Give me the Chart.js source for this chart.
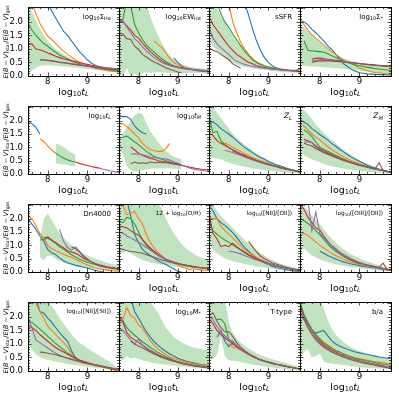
<!DOCTYPE html>
<html>
<head>
<meta charset="utf-8">
<script src="https://cdn.jsdelivr.net/npm/chart.js@4.4.1/dist/chart.umd.min.js"></script>
<style>
  html, body { margin: 0; padding: 0; background: #fff; }
  body { width: 399px; height: 399px; position: relative; overflow: hidden;
         font-family: "DejaVu Sans", sans-serif; color: #000; }
  canvas { position: absolute; }
  .t { position: absolute; white-space: nowrap; line-height: 1; }
  .s { font-size: 70%; position: relative; top: 0.3em; }
</style>
</head>
<body>
<script>
const _ = null;

// x grid (log10 t_L), shared by every panel
const logtL = [7.5,7.6,7.7,7.8,7.9,8.0,8.1,8.2,8.3,8.4,8.5,8.6,8.7,8.8,8.9,9.0,9.1,9.2,9.3,9.4,9.5,9.6,9.7,9.8];
const yTicks = [0, 0.5, 1, 1.5, 2];
const xTicks = [8, 9];

// each panel: [blue, orange, green, red, purple, brown], band: [upper, lower]
const sigHa = [
  [_,_,_,_,_, 2.7,2.4,2.15,1.9,1.65, 1.5,1.3,1.1,0.9,0.75, 0.6,0.48,0.4,0.33,0.29, 0.26,0.23,0.2,0.18],
  [_,2.7,2.3,1.95,1.7, 1.47,1.35,1.2,1.05,0.92, 0.8,0.7,0.6,0.52,0.45, 0.4,0.34,0.3,0.26,0.23, 0.2,0.18,0.16,0.15],
  [1.95,1.7,1.5,1.35,1.2, 1.1,0.98,0.88,0.78,0.7, 0.63,0.56,0.5,0.45,0.4, 0.37,0.34,0.31,0.29,0.26, 0.24,0.22,0.2,0.19],
  [1.2,1.18,1.0,0.97,0.92, 0.85,0.8,0.73,0.68,0.63, 0.6,0.56,0.53,0.5,0.46, 0.43,0.4,0.37,0.35,0.32, 0.3,0.28,0.26,0.25],
  [_,_,_,0.58,0.6, 0.57,0.56,0.54,0.52,0.5, 0.48,0.46,0.44,0.42,0.4, 0.38,0.36,0.34,0.33,0.32, 0.3,0.29,0.28,0.27],
  [_,_,_,0.6,0.59, 0.58,0.56,0.53,0.5,0.48, 0.46,0.44,0.42,0.4,0.38, 0.36,0.34,0.32,0.3,0.28, 0.26,0.25,0.24,0.23]
];
const sigHaBand = [
  [2.8,2.4,2.05,1.75,1.5, 1.3,1.15,1.0,0.9,0.8, 0.72,0.64,0.58,0.52,0.47, 0.43,0.4,0.37,0.34,0.32, 0.3,0.28,0.27,0.26],
  [0.05,0.2,0.3,0.38,0.4, 0.4,0.39,0.38,0.37,0.35, 0.34,0.33,0.31,0.3,0.28, 0.27,0.25,0.23,0.21,0.2, 0.18,0.17,0.15,0.14]
];

const ewHa = [
  [_,_,_,_,_, _,_,_,_,_, _,_,_,_,0.66, 0.5,0.38,0.3,0.26,0.22, 0.2,0.18,0.16,0.15],
  [_,_,_,_,_, _,_,_,_,1.3, 1.15,1.05,0.85,0.65,0.5, 0.42,0.35,0.3,0.27,0.25, 0.23,0.22,0.21,0.2],
  [2.0,2.1,2.8,2.6,1.9, 1.6,1.35,1.15,1.0,0.88, 0.75,0.63,0.53,0.45,0.38, 0.33,0.3,0.27,0.25,0.23, 0.21,0.2,0.19,0.18],
  [2.05,2.0,1.85,1.7,1.5, 1.4,1.22,1.05,0.9,0.78, 0.66,0.55,0.47,0.4,0.36, 0.33,0.3,0.28,0.26,0.24, 0.22,0.21,0.2,0.19],
  [2.1,2.05,1.8,1.6,1.38, 1.25,1.08,0.93,0.8,0.68, 0.58,0.5,0.43,0.38,0.34, 0.31,0.28,0.26,0.24,0.23, 0.22,0.21,0.2,0.19],
  [1.6,1.55,1.38,1.35,1.1, 0.98,0.8,0.7,0.6,0.52, 0.45,0.38,0.3,0.25,0.2, 0.15,0.12,_,_,_, _,_,_,_]
];
const ewHaBand = [
  [2.9,2.9,2.9,2.9,2.9, 2.9,2.9,2.7,2.2,1.8, 1.5,1.2,0.95,0.75,0.6, 0.5,0.42,0.38,0.34,0.32, 0.3,0.28,0.27,0.26],
  [0,0,0.3,0,0.1, 0,0.1,0.15,0.1,0.15, 0.15,0.15,0.12,0.12,0.1, 0.1,0.1,0.1,0.11,0.12, 0.12,0.12,0.12,0.12]
];

const ssfr = [
  [_,_,_,_,_, _,_,_,_,2.7, 2.25,1.75,1.3,0.95,0.68, 0.5,0.38,0.3,0.26,0.23, 0.21,0.2,0.18,0.16],
  [_,_,_,_,_, 2.7,2.0,1.6,1.25,1.0, 0.8,0.65,0.53,0.45,0.38, 0.33,0.3,0.27,0.25,0.23, 0.21,0.2,0.18,0.16],
  [_,_,2.7,2.3,2.0, 1.8,1.55,1.35,1.12,0.92, 0.75,0.6,0.5,0.42,0.37, 0.33,0.29,0.26,0.24,0.22, 0.21,0.2,0.2,0.3],
  [2.2,1.9,1.7,1.5,1.3, 1.1,0.95,0.8,0.7,0.6, 0.5,0.45,0.38,0.34,0.31, 0.28,0.26,0.24,0.23,0.22, 0.21,0.2,0.19,0.18],
  [1.8,1.4,1.2,1.05,0.92, 0.8,0.65,0.55,0.48,0.43, 0.39,0.36,0.33,0.31,0.29, 0.27,0.25,0.24,0.22,0.21, 0.2,0.19,0.18,_],
  [1.05,0.95,0.9,0.8,0.7, 0.6,0.45,0.37,0.3,_, _,_,_,_,_, _,_,_,_,_, _,_,_,_]
];
const ssfrBand = [
  [2.9,2.8,2.5,2.2,2.0, 1.75,1.5,1.3,1.1,0.92, 0.78,0.65,0.55,0.47,0.41, 0.37,0.34,0.31,0.29,0.27, 0.26,0.25,0.25,0.28],
  [1.3,1.1,0.95,0.8,0.68, 0.58,0.5,0.43,0.38,0.34, 0.31,0.28,0.26,0.24,0.22, 0.2,0.18,0.17,0.16,0.15, 0.14,0.13,0.12,0.1]
];

const sigStar = [
  [2.05,2.0,1.9,1.72,1.6, 1.45,1.3,1.12,0.98,0.82, 0.62,0.45,0.35,0.25,0.18, 0.12,0.1,0.08,0.07,0.06, 0.05,0.05,0.04,0.04],
  [2.05,1.9,1.7,1.52,1.4, 1.28,1.15,1.02,0.9,0.8, 0.7,0.6,0.52,0.45,0.38, 0.3,0.25,0.2,0.16,0.13, 0.11,0.09,0.08,0.07],
  [_,1.3,0.95,0.93,0.92, 0.9,0.88,0.82,0.75,0.68, 0.62,0.56,0.5,0.45,0.41, 0.38,0.35,0.32,0.3,0.28, 0.26,0.24,0.22,0.2],
  [_,_,_,0.62,0.66, 0.66,0.64,0.62,0.6,0.58, 0.56,0.54,0.52,0.5,0.48, 0.46,0.44,0.42,0.41,0.39, 0.38,0.36,0.35,0.34],
  [_,_,_,0.55,0.58, 0.6,0.6,0.59,0.58,0.56, 0.55,0.53,0.52,0.5,0.48, 0.46,0.45,0.43,0.42,0.4, 0.39,0.38,0.37,0.36],
  [_,_,_,0.5,0.54, 0.56,0.57,0.56,0.55,0.54, 0.53,0.52,0.5,0.49,0.47, 0.46,0.44,0.43,0.42,0.41, 0.4,0.39,0.38,0.38]
];
const sigStarBand = [
  [1.95,1.8,1.65,1.5,1.38, 1.25,1.12,1.0,0.9,0.8, 0.72,0.65,0.6,0.55,0.52, 0.49,0.46,0.44,0.42,0.4, 0.38,0.36,0.35,0.34],
  [0.4,0.38,0.36,0.35,0.34, 0.33,0.32,0.31,0.3,0.29, 0.28,0.27,0.26,0.24,0.22, 0.2,0.18,0.16,0.14,0.12, 0.1,0.09,0.08,0.07]
];

const tL = [
  [2.02,1.88,1.75,1.5,_, _,_,_,_,_, _,_,_,_,_, _,_,_,_,_, _,_,_,_],
  [_,_,_,1.32,1.22, 1.05,0.9,0.78,_,_, _,_,_,_,_, _,_,_,_,_, _,_,_,_],
  [_,_,_,_,_, _,_,0.78,0.68,0.6, 0.53,0.48,0.45,_,_, _,_,_,_,_, _,_,_,_],
  [_,_,_,_,_, _,_,_,_,_, _,_,0.45,0.4,0.36, 0.32,0.28,0.25,0.22,_, _,_,_,_],
  [_,_,_,_,_, _,_,_,_,_, _,_,_,_,_, _,_,_,0.22,0.18, 0.15,0.11,0.08,0.06],
  [_,_,_,_,_, _,_,_,_,_, _,_,_,_,_, _,_,_,_,_, _,_,_,_]
];
const tLBand = [
  [_,_,_,_,_, _,_,1.15,1.1,1.0, 0.9,0.8,0.72,_,_, _,_,_,_,_, _,_,_,_],
  [_,_,_,_,_, _,_,0.4,0.38,0.36, 0.34,0.3,0.28,_,_, _,_,_,_,_, _,_,_,_]
];

const tM = [
  [2.15,2.15,2.15,2.05,1.8, 1.65,1.55,1.5,_,_, _,_,_,_,_, _,_,_,_,_, _,_,_,_],
  [1.9,1.88,1.78,1.65,1.5, 1.35,1.15,1.0,0.92,0.87, 0.85,0.85,0.95,1.15,_, _,_,_,_,_, _,_,_,_],
  [1.36,1.38,1.42,1.32,1.2, 1.1,0.97,0.85,0.75,0.66, 0.6,0.55,0.5,0.45,0.41, 0.38,0.35,_,_,_, _,_,_,_],
  [_,_,_,1.02,0.9, 0.78,0.7,0.64,0.58,0.55, 0.5,0.47,0.45,0.42,0.38, 0.35,0.32,0.29,0.26,0.23, 0.2,0.18,0.16,0.14],
  [_,_,_,0.75,0.76, 0.74,0.72,0.68,0.64,0.62, 0.6,0.58,0.56,0.52,0.46, 0.4,0.34,0.28,0.23,0.19, 0.16,0.14,0.12,0.11],
  [_,_,_,0.38,0.45, 0.4,0.42,0.4,0.45,0.42, 0.44,0.42,0.43,0.4,0.38, 0.37,_,_,_,_, _,_,_,_]
];
const tMBand = [
  [1.3,1.5,1.75,2.0,2.2, 2.3,2.25,1.9,1.6,1.4, 1.2,1.0,0.85,0.75,0.65, 0.6,0.55,_,_,_, _,_,_,_],
  [0.9,0.75,0.3,0.15,0.08, 0.1,0.15,0.18,0.2,0.22, 0.22,0.22,0.22,0.22,0.2, 0.2,0.18,_,_,_, _,_,_,_]
];

const zL = [
  [1.98,1.95,1.85,1.7,1.6, 1.5,1.38,1.25,1.12,1.0, 0.9,0.8,0.7,0.62,0.55, 0.47,0.4,0.35,0.3,0.25, 0.2,0.16,0.12,0.08],
  [_,_,_,1.2,1.15, 1.1,1.0,0.92,0.84,0.76, 0.69,0.62,0.56,0.5,0.45, 0.4,0.35,0.3,0.26,0.22, 0.18,0.15,0.11,0.08],
  [2.2,1.55,1.6,1.25,1.1, 1.0,0.9,0.82,0.75,0.68, 0.62,0.55,0.5,0.45,0.4, 0.36,0.32,0.28,0.24,0.2, 0.17,0.14,0.1,0.07],
  [1.55,1.45,1.25,1.15,1.08, 0.98,0.9,0.83,0.76,0.7, 0.63,0.57,0.51,0.46,0.41, 0.36,0.32,0.28,0.24,0.2, 0.17,0.14,0.1,0.07],
  [_,_,_,_,0.88, 0.85,0.8,0.75,0.7,0.64, 0.58,0.53,0.48,0.43,0.39, 0.35,0.31,0.27,0.23,0.2, 0.17,0.14,0.11,0.08],
  [_,_,_,_,_, _,0.86,0.8,0.74,0.68, 0.62,0.56,0.5,0.45,0.4, 0.36,0.32,0.28,0.24,0.21, 0.18,0.15,0.12,0.09]
];
const zLBand = [
  [2.6,2.5,2.3,2.1,1.9, 1.7,1.5,1.35,1.22,1.1, 0.98,0.87,0.78,0.68,0.6, 0.52,0.45,0.38,0.32,0.27, 0.22,0.18,0.15,0.12],
  [0.65,0.6,0.58,0.55,0.48, 0.42,0.38,0.34,0.3,0.27, 0.24,0.21,0.19,0.17,0.15, 0.13,0.11,0.09,0.08,0.06, 0.05,0.04,0.03,0.02]
];

const zM = [
  [2.05,1.95,1.85,1.7,1.6, 1.48,1.38,1.28,1.15,1.05, 0.93,0.83,0.73,0.63,0.55, 0.48,0.4,0.33,0.27,0.22, 0.18,0.14,0.1,0.07],
  [1.9,1.8,1.65,1.5,1.38, 1.28,1.15,1.03,0.92,0.82, 0.73,0.65,0.57,0.5,0.44, 0.38,0.33,0.28,0.23,0.19, 0.15,0.12,0.09,0.06],
  [_,1.65,1.55,1.4,1.2, 1.0,0.92,0.85,0.78,0.7, 0.63,0.56,0.5,0.44,0.38, 0.33,0.29,0.25,0.21,0.18, 0.15,0.12,0.09,0.06],
  [_,1.3,1.25,1.18,1.05, 0.95,0.87,0.8,0.73,0.67, 0.6,0.54,0.49,0.44,0.39, 0.35,0.31,0.27,0.23,0.2, 0.17,0.13,0.1,0.07],
  [_,1.2,1.2,1.18,1.0, 0.9,0.82,0.76,0.7,0.64, 0.58,0.52,0.47,0.42,0.38, 0.34,0.3,0.26,0.23,0.2, 0.17,0.13,0.1,0.07],
  [_,1.15,1.1,1.05,0.95, 0.88,0.8,0.74,0.68,0.62, 0.56,0.51,0.46,0.41,0.37, 0.33,0.29,0.26,0.23,0.2, 0.42,0.14,0.1,0.07]
];
const zMBand = [
  [2.45,2.4,2.25,2.05,1.85, 1.7,1.55,1.4,1.27,1.15, 1.02,0.9,0.8,0.7,0.6, 0.52,0.45,0.38,0.32,0.26, 0.21,0.17,0.13,0.1],
  [0.85,0.7,0.62,0.55,0.5, 0.44,0.38,0.33,0.29,0.26, 0.23,0.2,0.18,0.16,0.14, 0.12,0.1,0.08,0.07,0.06, 0.05,0.04,0.03,0.02]
];

const dn4000 = [
  [2.0,1.8,1.6,1.35,1.15, 0.85,0.72,0.65,0.52,0.42, 0.35,0.3,0.25,0.22,0.18, 0.15,0.1,0.06,0.03,0.0, _,_,_,_],
  [2.15,2.0,1.75,1.45,1.25, 1.0,0.88,0.8,0.73,0.67, 0.6,0.55,0.47,0.4,0.33, 0.27,0.2,0.15,0.12,0.09, 0.07,0.05,0.04,0.03],
  [_,_,_,1.2,1.22, 1.27,1.18,1.08,0.95,0.85, 0.75,0.65,0.56,0.48,0.42, 0.37,0.32,0.28,0.24,0.21, 0.18,0.16,0.14,0.13],
  [_,_,_,_,1.28, 1.32,1.2,1.1,1.0,0.9, 0.8,0.75,0.7,0.62,0.52, 0.45,0.38,0.32,0.27,0.23, 0.2,0.17,0.15,0.14],
  [_,_,_,_,_, _,_,_,1.6,1.15, 0.92,0.82,0.95,0.78,0.6, 0.48,0.38,0.3,0.24,0.2, 0.17,0.14,0.12,0.11],
  [_,_,_,_,_, _,_,_,_,_, _,0.95,0.88,0.75,0.6, 0.48,0.38,0.3,0.25,0.2, 0.17,0.14,0.12,0.11]
];
const dn4000Band = [
  [_,_,_,1.2,2.0, 2.2,1.95,1.7,1.45,1.3, 1.15,1.0,0.88,0.78,0.7, 0.62,0.55,0.5,0.45,0.4, 0.35,0.3,0.28,0.26],
  [_,_,_,0.55,0.45, 0.62,0.6,0.5,0.42,0.35, 0.3,0.25,0.22,0.2,0.18, 0.16,0.14,0.12,0.1,0.08, 0.07,0.06,0.05,0.04]
];

const oh = [
  [_,_,2.7,2.1,1.4, 1.1,0.85,0.72,0.62,0.52, 0.42,0.35,0.28,0.2,0.12, 0.03,0.0,_,_,_, _,_,_,_],
  [2.6,2.5,2.15,2.2,2.27, 2.0,1.8,1.4,1.1,0.9, 0.72,0.6,0.48,0.4,0.33, 0.27,0.2,0.15,0.08,0.12, 0.1,0.08,0.07,0.06],
  [1.9,1.85,2.05,2.0,1.8, 1.5,1.2,1.0,0.85,0.72, 0.62,0.53,0.46,0.4,0.35, 0.31,0.27,0.24,0.21,0.19, 0.17,0.15,0.13,0.12],
  [1.72,1.7,1.65,1.55,1.45, 1.38,1.22,1.05,0.9,0.78, 0.66,0.56,0.48,0.42,0.37, 0.33,0.29,0.26,0.23,0.2, 0.18,0.16,0.15,0.14],
  [1.5,1.45,1.35,1.28,1.2, 1.12,1.02,0.92,0.82,0.72, 0.63,0.55,0.48,0.42,0.37, 0.33,0.29,0.26,0.23,0.2, 0.18,0.16,0.14,0.13],
  [0.87,0.85,0.8,0.77,0.75, 0.73,0.7,0.65,0.6,0.55, 0.5,0.45,0.41,0.37,0.34, 0.31,0.28,0.25,0.23,0.21, 0.19,0.17,0.15,0.14]
];
const ohBand = [
  [2.9,2.9,2.9,2.9,2.9, 2.9,2.9,2.9,2.9,2.8, 2.6,2.35,2.0,1.7,1.45, 1.25,1.05,0.9,0.78,0.68, 0.6,0.54,0.5,0.46],
  [0.75,0.7,0.8,0.7,0.6, 0.52,0.45,0.4,0.36,0.33, 0.3,0.27,0.25,0.23,0.21, 0.19,0.17,0.15,0.13,0.12, 0.11,0.1,0.09,0.08]
];

const niiOii = [
  [2.5,2.3,2.0,1.85,1.75, 1.62,1.48,1.3,1.1,0.92, 0.78,0.65,0.52,0.43,0.35, 0.28,0.22,0.17,0.13,0.1, 0.07,0.05,0.03,0.02],
  [2.0,2.0,2.0,1.72,1.55, 1.42,1.28,1.12,0.98,0.85, 0.74,0.64,0.55,0.47,0.4, 0.34,0.29,0.24,0.2,0.16, 0.12,0.09,0.07,0.05],
  [1.85,1.55,1.42,1.3,1.2, 1.12,1.02,0.92,0.82,0.72, 0.63,0.55,0.48,0.42,0.37, 0.32,0.27,0.23,0.19,0.16, 0.13,0.1,0.08,0.06],
  [2.2,1.45,1.25,0.95,1.0, 0.95,1.08,0.95,0.85,0.75, 0.66,0.58,0.5,0.44,0.38, 0.33,0.28,0.24,0.2,0.17, 0.14,0.11,0.08,0.06],
  [_,_,_,_,_, 0.78,0.76,0.72,0.68,0.62, 0.56,0.5,0.45,0.4,0.35, 0.31,0.27,0.23,0.2,0.17, 0.14,0.11,0.08,0.06],
  [_,_,_,_,_, _,_,_,_,_, 1.15,0.95,0.75,0.6,0.5, 0.42,0.35,0.3,0.25,0.2, 0.16,0.12,0.09,0.06]
];
const niiOiiBand = [
  [2.7,2.5,2.3,2.1,1.95, 1.8,1.65,1.5,1.35,1.2, 1.07,0.95,0.83,0.72,0.62, 0.53,0.45,0.38,0.32,0.27, 0.23,0.19,0.15,0.12],
  [1.1,0.85,0.7,0.6,0.52, 0.46,0.41,0.37,0.33,0.3, 0.27,0.24,0.21,0.19,0.17, 0.15,0.13,0.11,0.09,0.07, 0.06,0.05,0.04,0.03]
];

const oiiiOii = [
  [_,_,_,_,_, 0.78,0.7,0.62,0.55,0.49, 0.43,0.38,0.34,0.3,0.27, 0.24,0.21,0.19,0.17,0.15, 0.12,0.1,0.08,0.06],
  [1.35,1.45,1.38,1.25,1.12, 1.0,0.9,0.8,0.7,0.62, 0.55,0.48,0.42,0.37,0.33, 0.29,0.26,0.23,0.2,0.17, 0.14,0.11,0.08,0.06],
  [2.02,1.92,1.82,1.7,1.55, 1.4,1.22,1.05,0.9,0.78, 0.68,0.58,0.5,0.43,0.38, 0.33,0.29,0.25,0.22,0.19, 0.16,0.13,0.1,0.07],
  [2.55,2.35,2.05,1.85,1.65, 1.58,1.35,1.15,0.98,0.85, 0.72,0.62,0.53,0.45,0.39, 0.34,0.3,0.26,0.23,0.2, 0.17,0.14,0.1,0.07],
  [_,_,2.7,1.55,2.25, 1.45,1.3,1.12,1.0,0.88, 0.75,0.65,0.58,0.5,0.42, 0.36,0.3,0.25,0.21,0.18, 0.15,0.13,0.1,0.07],
  [_,_,_,_,_, _,_,_,_,_, _,_,_,0.46,0.4, 0.35,0.3,0.26,0.23,0.2, 0.17,0.33,0.1,0.07]
];
const oiiiOiiBand = [
  [2.6,2.45,2.3,2.1,1.95, 1.8,1.6,1.42,1.25,1.1, 0.97,0.85,0.75,0.66,0.58, 0.51,0.45,0.4,0.35,0.3, 0.25,0.21,0.17,0.13],
  [0.72,0.9,0.75,0.62,0.55, 0.48,0.42,0.37,0.33,0.29, 0.26,0.23,0.21,0.19,0.17, 0.15,0.13,0.11,0.09,0.07, 0.06,0.05,0.04,0.03]
];

const niiSii = [
  [_,_,2.7,2.2,2.15, 1.95,1.8,1.6,1.42,1.25, 1.1,0.75,0.5,0.38,0.32, 0.28,0.25,0.22,0.19,0.16, 0.12,0.08,0.04,0.02],
  [_,_,2.5,2.2,1.95, 1.65,1.5,1.35,1.2,1.05, 0.88,0.65,0.42,0.35,0.3, 0.26,0.23,0.2,0.17,0.14, 0.1,0.07,0.04,0.02],
  [1.88,1.8,1.68,1.55,1.42, 1.28,1.15,1.02,0.9,0.78, 0.67,0.57,0.48,0.4,0.34, 0.29,0.25,0.21,0.18,0.15, 0.12,0.09,0.06,0.04],
  [1.65,1.6,1.5,1.35,1.22, 1.1,0.98,0.87,0.78,0.7, 0.62,0.54,0.47,0.41,0.36, 0.31,0.27,0.23,0.2,0.16, 0.13,0.1,0.07,0.05],
  [2.0,1.6,1.15,1.05,0.95, 0.85,0.75,0.66,0.58,0.52, 0.47,0.42,0.38,0.34,0.31, 0.28,0.25,0.22,0.19,0.16, 0.13,0.1,0.07,0.05],
  [_,_,_,0.7,0.69, 0.66,0.63,0.6,0.56,0.52, 0.48,0.44,0.4,0.36,0.32, 0.29,0.26,0.23,0.2,0.17, 0.14,0.11,0.08,0.06]
];
const niiSiiBand = [
  [2.6,2.7,2.8,2.8,2.7, 2.6,2.4,2.2,1.95,1.75, 1.55,1.35,1.2,1.05,0.95, 0.85,0.75,0.66,0.57,0.48, 0.4,0.3,0.18,0.1],
  [1.0,0.8,0.62,0.52,0.46, 0.42,0.38,0.35,0.32,0.29, 0.26,0.24,0.22,0.2,0.18, 0.16,0.14,0.12,0.1,0.08, 0.06,0.04,0.02,0.01]
];

const mStar = [
  [_,_,_,2.7,2.2, 1.95,1.7,1.45,1.25,1.08, 0.95,0.82,0.72,0.63,0.55, 0.48,0.42,0.37,0.33,0.3, 0.27,0.24,0.22,0.2],
  [1.7,1.9,2.35,2.05,1.95, 1.7,1.6,1.35,1.12,0.95, 0.82,0.7,0.6,0.52,0.46, 0.42,0.37,0.33,0.3,0.27, 0.24,0.22,0.2,0.18],
  [2.0,1.85,1.6,1.45,1.32, 1.2,1.08,0.97,0.87,0.78, 0.68,0.6,0.52,0.46,0.4, 0.35,0.31,0.28,0.25,0.22, 0.2,0.18,0.16,0.15],
  [2.0,1.8,1.42,1.25,1.15, 1.05,0.95,0.85,0.76,0.68, 0.6,0.53,0.47,0.42,0.37, 0.33,0.29,0.26,0.23,0.2, 0.18,0.16,0.14,0.13],
  [1.6,1.5,1.32,1.15,1.0, 1.18,0.95,0.82,0.72,0.64, 0.57,0.5,0.45,0.4,0.36, 0.32,0.28,0.25,0.22,0.2, 0.18,0.16,0.14,0.13],
  [_,_,_,1.1,1.0, 0.92,0.85,0.78,0.7,0.63, 0.56,0.5,0.45,0.4,0.36, 0.32,0.28,0.25,0.22,0.2, 0.17,0.15,0.13,0.12]
];
const mStarBand = [
  [2.9,2.9,2.9,2.9,2.9, 2.9,2.9,2.9,2.6,2.35, 2.15,1.85,1.6,1.42,1.25, 1.15,1.05,0.98,0.92,0.87, 0.83,0.8,0.78,0.76],
  [0.45,0.4,0.55,0.45,0.5, 0.45,0.4,0.36,0.32,0.29, 0.27,0.25,0.23,0.21,0.2, 0.18,0.17,0.15,0.14,0.12, 0.11,0.1,0.09,0.08]
];

const tType = [
  [_,_,1.25,1.5,1.1, 0.9,1.05,0.88,0.8,0.7, 0.62,0.54,0.47,0.41,0.36, 0.32,0.28,0.25,0.22,0.19, 0.16,0.13,0.1,0.06],
  [_,_,_,_,_, 1.0,0.88,0.85,0.78,0.7, 0.62,0.54,0.47,0.41,0.36, 0.32,0.28,0.25,0.22,0.19, 0.16,0.13,0.1,0.07],
  [_,_,1.9,1.92,1.75, 1.15,1.1,0.95,0.82,0.72, 0.63,0.55,0.48,0.42,0.37, 0.33,0.29,0.25,0.22,0.19, 0.16,0.13,0.1,0.08],
  [1.95,1.75,1.5,1.35,1.22, 1.12,1.0,0.9,0.8,0.7, 0.62,0.54,0.47,0.41,0.36, 0.32,0.28,0.25,0.22,0.19, 0.16,0.13,0.1,0.08],
  [2.05,1.9,1.65,1.45,1.3, 1.18,1.05,0.93,0.82,0.72, 0.63,0.55,0.48,0.42,0.37, 0.33,0.29,0.25,0.22,0.19, 0.16,0.13,0.1,0.08],
  [2.05,2.15,1.85,1.6,1.45, 1.45,1.28,1.05,0.88,0.75, 0.65,0.56,0.48,0.42,0.37, 0.33,0.29,0.25,0.22,0.19, 0.16,0.13,0.1,0.08]
];
const tTypeBand = [
  [2.9,2.9,2.9,2.9,2.7, 1.8,1.4,1.2,1.05,0.93, 0.83,0.74,0.66,0.59,0.53, 0.48,0.43,0.39,0.35,0.31, 0.27,0.23,0.19,0.16],
  [0.4,0.45,0.6,1.25,0.55, 0.4,0.38,0.36,0.33,0.3, 0.27,0.24,0.21,0.19,0.17, 0.15,0.13,0.11,0.09,0.07, 0.06,0.05,0.04,0.03]
];

const ba = [
  [2.2,1.95,1.72,1.5,1.4, 1.45,1.5,1.3,1.12,1.0, 0.92,0.86,0.8,0.75,0.7, 0.67,0.64,0.61,0.58,0.55, 0.52,0.5,0.47,0.45],
  [2.4,2.05,1.75,1.5,1.3, 1.15,1.02,0.92,0.83,0.75, 0.69,0.63,0.58,0.53,0.49, 0.46,0.43,0.4,0.37,0.34, 0.32,0.3,0.28,0.26],
  [2.55,2.1,1.8,1.55,1.35, 1.2,1.06,0.95,0.85,0.77, 0.7,0.63,0.57,0.52,0.47, 0.43,0.4,0.37,0.34,0.31, 0.28,0.25,0.23,0.21],
  [2.45,2.0,1.7,1.45,1.25, 1.1,0.97,0.87,0.78,0.7, 0.63,0.57,0.51,0.46,0.42, 0.38,0.34,0.31,0.28,0.25, 0.22,0.19,0.16,0.13],
  [2.1,2.05,1.75,1.45,1.22, 1.05,0.92,0.82,0.73,0.66, 0.6,0.54,0.49,0.44,0.4, 0.36,0.33,0.3,0.27,0.24, 0.21,0.18,0.15,0.12],
  [2.05,1.9,1.6,1.35,1.15, 1.0,0.88,0.78,0.7,0.63, 0.57,0.51,0.46,0.41,0.37, 0.33,0.3,0.27,0.24,0.21, 0.18,0.15,0.12,0.1]
];
const baBand = [
  [2.9,2.9,2.9,2.9,2.9, 2.7,2.3,1.9,1.55,1.35, 1.2,1.07,0.96,0.87,0.8, 0.74,0.69,0.64,0.6,0.56, 0.52,0.48,0.44,0.4],
  [0.45,0.7,0.8,0.5,0.55, 0.65,0.35,0.3,0.28,0.26, 0.24,0.22,0.2,0.18,0.16, 0.15,0.13,0.12,0.11,0.1, 0.09,0.08,0.07,0.06]
];

const sub = t => `<span class="s">${t}</span>`;
const panels = [
  { label: 'log' + sub('10') + 'Σ' + sub('Hα'), size: 7, series: sigHa, band: sigHaBand },
  { label: 'log' + sub('10') + 'EW' + sub('Hα'), size: 7, series: ewHa, band: ewHaBand },
  { label: 'sSFR', size: 7, series: ssfr, band: ssfrBand },
  { label: 'log' + sub('10') + 'Σ' + sub('*'), size: 7, series: sigStar, band: sigStarBand },
  { label: 'log' + sub('10') + '<i>t</i>' + sub('<i>L</i>'), size: 7, series: tL, band: tLBand },
  { label: 'log' + sub('10') + '<i>t</i>' + sub('<i>M</i>'), size: 7, series: tM, band: tMBand },
  { label: '<i>Z</i>' + sub('<i>L</i>'), size: 7.5, series: zL, band: zLBand },
  { label: '<i>Z</i>' + sub('<i>M</i>'), size: 7.5, series: zM, band: zMBand },
  { label: 'Dn4000', size: 7, series: dn4000, band: dn4000Band },
  { label: '12 + log' + sub('10') + '(O/H)', size: 5.8, series: oh, band: ohBand },
  { label: 'log' + sub('10') + '([NII]/[OII])', size: 5.8, series: niiOii, band: niiOiiBand },
  { label: 'log' + sub('10') + '([OIII]/[OII])', size: 5.8, series: oiiiOii, band: oiiiOiiBand },
  { label: 'log' + sub('10') + '([NII]/[SII])', size: 5.8, series: niiSii, band: niiSiiBand },
  { label: 'log' + sub('10') + '<i>M</i>' + sub('*'), size: 7, series: mStar, band: mStarBand },
  { label: 'T-type', size: 7, series: tType, band: tTypeBand },
  { label: 'b/a', size: 7, series: ba, band: baBand }
];

const colors = ['#1f77b4', '#ff7f0e', '#2ca02c', '#d62728', '#9467bd', '#8c564b'];
const colEdges = [28, 119, 209, 300, 391];
const rowTops = [7, 106, 204, 302];
const rowBottoms = [76, 174, 272, 371];
const family = '"DejaVu Sans", sans-serif';

// frame plus inward major/minor ticks on all four sides
const frame = {
  id: 'frame',
  afterDatasetsDraw(chart) {
    const { ctx, chartArea: a, scales: { x, y } } = chart;
    ctx.save();
    ctx.strokeStyle = '#222';
    ctx.lineWidth = 0.8;
    ctx.beginPath();
    for (let k = 38; k <= 49; k++) {
      const px = Math.round(x.getPixelForValue(k / 5)) + 0.5;
      const len = k % 5 === 0 ? 3.5 : 2;
      ctx.moveTo(px, a.bottom); ctx.lineTo(px, a.bottom - len);
      ctx.moveTo(px, a.top); ctx.lineTo(px, a.top + len);
    }
    for (let k = 1; k <= 25; k++) {
      const py = Math.round(y.getPixelForValue(k / 10)) + 0.5;
      const len = k % 5 === 0 ? 3.5 : 2;
      ctx.moveTo(a.left, py); ctx.lineTo(a.left + len, py);
      ctx.moveTo(a.right, py); ctx.lineTo(a.right - len, py);
    }
    ctx.stroke();
    ctx.strokeStyle = '#000';
    ctx.lineWidth = 1;
    ctx.strokeRect(a.left + 0.5, a.top + 0.5, a.right - a.left, a.bottom - a.top);
    ctx.restore();
  }
};

function addText(html, css) {
  const d = document.createElement('div');
  d.className = 't';
  d.innerHTML = html;
  d.style.cssText = css;
  document.body.appendChild(d);
}

panels.forEach((p, i) => {
  const col = i % 4, row = Math.floor(i / 4);
  const left = colEdges[col], right = colEdges[col + 1];
  const top = rowTops[row], bottom = rowBottoms[row];
  const padL = col === 0 ? 28 : 6, padR = 8, padT = 10, padB = 14;

  const cv = document.createElement('canvas');
  cv.width = right - left + padL + padR;
  cv.height = bottom - top + padT + padB;
  cv.style.left = (left - padL) + 'px';
  cv.style.top = (top - padT) + 'px';
  document.body.appendChild(cv);

  const pts = arr => logtL.map((x, k) => ({ x, y: arr[k] }));
  const datasets = p.series.map((s, k) => ({
    data: pts(s), borderColor: colors[k], borderWidth: 1.1, fill: false, order: 6 - k
  }));
  datasets.push({ data: pts(p.band[0]), borderWidth: 0, backgroundColor: 'rgba(44,160,44,0.3)', fill: '+1', order: 10 });
  datasets.push({ data: pts(p.band[1]), borderWidth: 0, fill: false, order: 11 });

  new Chart(cv, {
    type: 'line',
    data: { datasets },
    options: {
      responsive: false,
      animation: false,
      devicePixelRatio: 1,
      layout: { padding: { top: padT, right: padR, left: 0, bottom: 0 } },
      plugins: { legend: { display: false }, tooltip: { enabled: false } },
      elements: { point: { radius: 0 }, line: { tension: 0 } },
      scales: {
        x: {
          type: 'linear', min: 7.5, max: 9.8,
          grid: { display: false, drawTicks: false }, border: { display: false },
          afterBuildTicks: s => { s.ticks = xTicks.map(v => ({ value: v })); },
          afterFit: s => { s.height = padB; },
          ticks: { font: { family, size: 8.5 }, color: '#000', padding: 1, maxRotation: 0,
                   callback: v => String(v) }
        },
        y: {
          type: 'linear', min: 0, max: 2.55,
          grid: { display: false, drawTicks: false }, border: { display: false },
          afterBuildTicks: s => { s.ticks = yTicks.map(v => ({ value: v })); },
          afterFit: s => { s.width = padL; },
          ticks: { display: col === 0, font: { family, size: 8.5 }, color: '#000', padding: 5,
                   callback: v => v.toFixed(1) }
        }
      }
    },
    plugins: [frame]
  });

  addText(p.label, `right:${399 - (right - 8)}px;top:${top + 10}px;font-size:${p.size}px;transform:translateY(-50%)`);
  addText('log' + sub('10') + '<i>t</i>' + sub('<i>L</i>'),
    `left:${(left + right) / 2}px;top:${bottom + 15.5}px;font-size:9.5px;transform:translate(-50%,-50%)`);
  if (col === 0) {
    addText('<i>E</i>(<i>B</i> − <i>V</i>)' + sub('star') + '/<i>E</i>(<i>B</i> − <i>V</i>)' + sub('gas'),
      `left:6px;top:${(top + bottom) / 2}px;font-size:6.4px;transform:translate(-50%,-50%) rotate(-90deg)`);
  }
});
</script>
</body>
</html>
